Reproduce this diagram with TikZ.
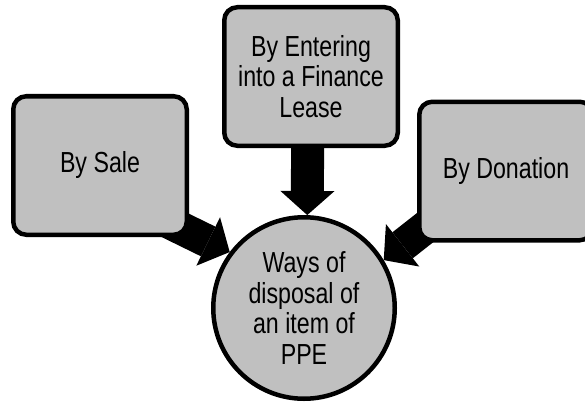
\documentclass[tikz,border=0pt]{standalone}
\usepackage{fontspec}
\setmainfont[FakeStretch=0.80]{Liberation Sans}
\usetikzlibrary{arrows.meta,positioning,backgrounds}
\definecolor{boxgray}{RGB}{192,192,192}

\begin{document}
\begin{tikzpicture}[x=1pt, y=1pt, align=center, font=\fontsize{29}{30.5}\selectfont]
    \tikzset{
        box/.style      =   { rectangle
                            , rounded corners=13pt
                            , draw=black
                            , fill=boxgray
                            , line width=4.5pt
                            , minimum width=173.5pt
                            , minimum height=138.5pt
        }
        , hub/.style    =   { circle
                            , draw=black
                            , fill=boxgray
                            , line width=4.5pt
                            , inner sep=0pt
                            , minimum size=181.5pt
        }
        , arrow/.style  =   { line width=33pt
                            , -{Triangle[length=24pt, width=54pt, line width=0pt]}
        }
    }
    \clip (0,0) rectangle (585,-401);
    \node(2)[box] at (311,-76.5) {By Entering\\into a Finance\\Lease};
    \node(0)[hub, below=67pt of 2, xshift=-7pt] {Ways of\\disposal of\\an item of\\PPE};
    \node(1)[box, left=33pt of 2, yshift=-89pt] {By Sale};
    \node(3)[box, right=17pt of 2, yshift=-94.5pt] {By Donation};

    \begin{scope}[on background layer]
        \draw[arrow] ([xshift=-3pt]2.center) -- (0.88);
        \draw[arrow] ([xshift=50pt, yshift=-47.5pt]1.center) -- (0.143);
        \draw[arrow] ([xshift=-75pt, yshift=-52pt]3.center) -- (0.31);
    \end{scope}
\end{tikzpicture}
\end{document}
